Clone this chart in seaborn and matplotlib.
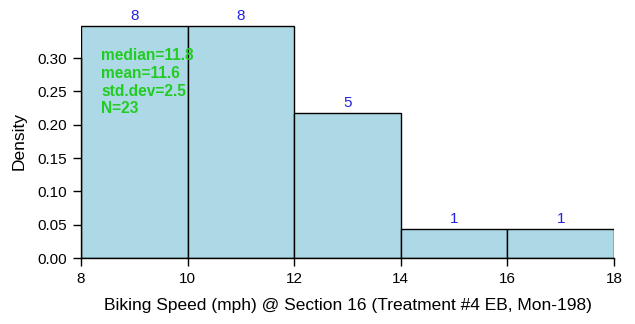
import matplotlib
matplotlib.use("Agg")
import matplotlib.pyplot as plt
import seaborn as sns
import numpy as np

bin_edges = [8, 10, 12, 14, 16, 18]
bin_counts = [8, 8, 5, 1, 1]
stats_lines = ["median=11.8", "mean=11.6", "std.dev=2.5", "N=23"]
x_ticks = [8, 10, 12, 14, 16, 18]
y_ticks = [0.00, 0.05, 0.10, 0.15, 0.20, 0.25, 0.30]
x_label = "Biking Speed (mph) @ Section 16 (Treatment #4 EB, Mon-198)"
y_label = "Density"

sns.set_theme(style="white")
plt.rcParams['font.family'] = ['Liberation Sans', 'DejaVu Sans']

fig = plt.figure(figsize=(6.35, 3.24), dpi=100)
ax = fig.add_axes([81/635, (324-258)/324, (614-81)/635, (258-24.7)/324])

centers = [(bin_edges[i] + bin_edges[i+1]) / 2 for i in range(len(bin_counts))]
sns.histplot(x=centers, weights=bin_counts, bins=bin_edges, stat="probability",
             color="#ADD8E6", alpha=1, edgecolor="black", linewidth=1.0, ax=ax)

total = sum(bin_counts)
for c, n in zip(centers, bin_counts):
    ax.text(c, n/total + 0.0045, str(n), ha="center", va="bottom", color="#2222DD", fontsize=11)

ax.set_xlim(8, 18)
ax.set_ylim(0, 0.35)
ax.set_xticks(x_ticks)
ax.set_yticks(y_ticks)
ax.set_yticklabels([f"{v:.2f}" for v in y_ticks])
ax.tick_params(axis="both", which="both", length=6, width=1, color="black",
               labelsize=11, labelcolor="black", direction="out", pad=4,
               bottom=True, left=True)
for s in ["top", "right"]:
    ax.spines[s].set_visible(False)
ax.spines["left"].set_bounds(0, 0.30)
ax.spines["bottom"].set_bounds(8, 18)
ax.spines["left"].set_color("black")
ax.spines["bottom"].set_color("black")
ax.spines["left"].set_linewidth(1)
ax.spines["bottom"].set_linewidth(1)

ax.set_xlabel(x_label, fontsize=12.5, color="black", labelpad=9)
ax.set_ylabel(y_label, fontsize=12.5, color="black", labelpad=8)

for i, line in enumerate(stats_lines):
    fig.text(101/635, 1 - (55 + 18*i)/324, line, ha="left", va="center",
             color="#22CC22", fontsize=11.2, fontweight="bold")

fig.savefig("out.png", dpi=100)
